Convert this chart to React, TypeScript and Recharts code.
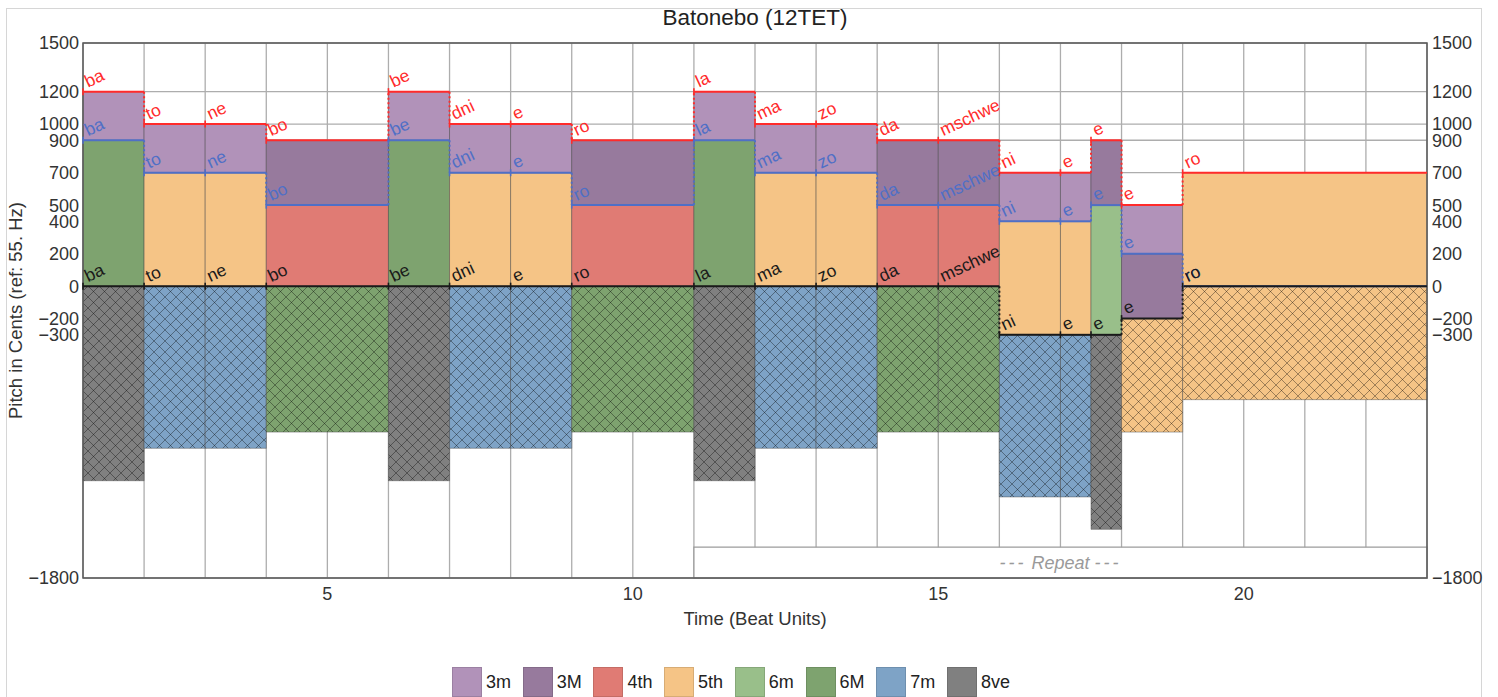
import React from 'react';
import {
  ComposedChart,
  XAxis,
  YAxis,
  CartesianGrid,
  ReferenceArea,
  ReferenceLine,
  ReferenceDot,
  Line,
} from 'recharts';

const TITLE = 'Batonebo (12TET)';
const X_LABEL = 'Time (Beat Units)';
const Y_LABEL = 'Pitch in Cents (ref: 55. Hz)';

// note segments (beat units)
const SEG_START = [1, 2, 3, 4, 6, 7, 8, 9, 11, 12, 13, 14, 15, 16, 17, 17.5, 18, 19];
const SEG_END = [2, 3, 4, 6, 7, 8, 9, 11, 12, 13, 14, 15, 16, 17, 17.5, 18, 19, 23];
const SYLLABLES = ['ba', 'to', 'ne', 'bo', 'be', 'dni', 'e', 'ro', 'la', 'ma', 'zo', 'da', 'mschwe', 'ni', 'e', 'e', 'e', 'ro'];

// voices in cents
const TOP_VOICE = [1200, 1000, 1000, 900, 1200, 1000, 1000, 900, 1200, 1000, 1000, 900, 900, 700, 700, 900, 500, 700];
const MID_VOICE = [900, 700, 700, 500, 900, 700, 700, 500, 900, 700, 700, 500, 500, 400, 400, 500, 200, 0];
const BASS_VOICE = [0, 0, 0, 0, 0, 0, 0, 0, 0, 0, 0, 0, 0, -300, -300, -300, -200, 0];

// intervals
const INTERVAL_NAMES = ['3m', '3M', '4th', '5th', '6m', '6M', '7m', '8ve'];
const INTERVAL_CENTS = [300, 400, 500, 700, 800, 900, 1000, 1200];
const INTERVAL_COLORS = ['#b192b9', '#977a9d', '#e07b74', '#f5c486', '#99bf8a', '#7ea36f', '#7ea3c6', '#808080'];

// axes
const X_TICKS = [1, 2, 3, 4, 5, 6, 7, 8, 9, 10, 11, 12, 13, 14, 15, 16, 17, 18, 19, 20, 21, 22, 23];
const X_LABELED_TICKS = [5, 10, 15, 20];
const Y_TICKS = [-1800, -300, -200, 0, 200, 400, 500, 700, 900, 1000, 1200, 1500];
const X_DOMAIN = [1, 23];
const Y_DOMAIN = [-1800, 1500];

// repeat marker
const REPEAT_START = 11;
const REPEAT_END = 23;
const REPEAT_TOP = -1610;
const REPEAT_DASHES = '---';
const REPEAT_WORD = 'Repeat';
const REPEAT_TEXT_X = 17;
const REPEAT_TEXT_Y = -1705;

const TOP_COLOR = '#ff2b2b';
const MID_COLOR = '#4f6fc6';
const BASS_COLOR = '#1a1a1a';
const FONT = '"Liberation Sans", Arial, Helvetica, sans-serif';
const LABEL_ANGLE = -25;

const colorOf = (cents: number) => INTERVAL_COLORS[INTERVAL_CENTS.indexOf(cents)];
const idOf = (cents: number) => 'hatch-' + INTERVAL_NAMES[INTERVAL_CENTS.indexOf(cents)];

const fmt = (v: number) => (v < 0 ? '\u2212' + Math.abs(v) : String(v));

const DATA = SEG_START.map((s, i) => ({ x: s, y: BASS_VOICE[i] }));

const makeLabelShape = (text: string, color: string) => (props: any) => {
  const { cx, cy } = props;
  if (cx == null || cy == null) return <g />;
  const tx = cx + 5;
  const ty = cy - 4;
  return (
    <g>
      <line x1={cx} x2={cx} y1={cy - 3.5} y2={cy + 3.5} stroke={color} strokeWidth={1.6} />
      <g transform={`translate(${tx} ${ty}) rotate(${LABEL_ANGLE})`}>
        <text x={0} y={0} fill={color} fontSize={17.5} fontFamily={FONT}>
          {text}
        </text>
      </g>
    </g>
  );
};

const repeatShape = (props: any) => {
  const { cx, cy } = props;
  if (cx == null || cy == null) return <g />;
  return (
    <text
      x={cx}
      y={cy}
      textAnchor="middle"
      dominantBaseline="central"
      fill="#9a9a9a"
      fontStyle="italic"
      fontSize={18}
      fontFamily={FONT}
    >
      <tspan letterSpacing={3}>{REPEAT_DASHES}</tspan>
      {' ' + REPEAT_WORD + ' '}
      <tspan letterSpacing={3}>{REPEAT_DASHES}</tspan>
    </text>
  );
};

export default function App() {
  const voices = [
    { vals: TOP_VOICE, color: TOP_COLOR, key: 'top' },
    { vals: MID_VOICE, color: MID_COLOR, key: 'mid' },
    { vals: BASS_VOICE, color: BASS_COLOR, key: 'bass' },
  ];

  return (
    <div
      style={{
        position: 'fixed',
        left: 0,
        top: 0,
        width: 1498,
        height: 697,
        overflow: 'hidden',
        background: '#fff',
        fontFamily: FONT,
      }}
    >
      <div
        style={{
          position: 'absolute',
          left: 6,
          top: 8,
          width: 1474,
          height: 700,
          border: '1px solid #d6d6d6',
        }}
      />
      <div
        style={{
          position: 'absolute',
          left: 0,
          top: 5,
          width: 1510,
          textAlign: 'center',
          fontSize: 22.5,
          lineHeight: '26px',
          color: '#222',
        }}
      >
        {TITLE}
      </div>
      <div style={{ position: 'absolute', left: 0, top: 0 }}>
        <ComposedChart
          width={1498}
          height={697}
          data={DATA}
          margin={{ top: 43, right: 11, bottom: 59, left: 8 }}
          style={{ fontFamily: FONT }}
        >
          <defs>
            {INTERVAL_CENTS.map((c) => (
              <pattern key={c} id={idOf(c)} patternUnits="userSpaceOnUse" width={11} height={11}>
                <rect width={11} height={11} fill={colorOf(c)} />
                <path d="M0,0 L11,11 M11,0 L0,11" stroke="rgba(0,0,0,0.4)" strokeWidth={0.9} />
              </pattern>
            ))}
          </defs>
          <CartesianGrid stroke="#adadad" strokeWidth={1.3} />
          <XAxis
            type="number"
            dataKey="x"
            domain={X_DOMAIN}
            ticks={X_TICKS}
            allowDataOverflow
            interval={0}
            height={60}
            axisLine={false}
            tickLine={false}
            tickSize={4}
            tickMargin={5}
            tick={{ fontSize: 18, fill: '#333' }}
            tickFormatter={(v: number) => (X_LABELED_TICKS.includes(v) ? String(v) : '')}
            label={{ value: X_LABEL, position: 'insideTop', offset: 34, fontSize: 18.5, fill: '#333' }}
          />
          <YAxis
            type="number"
            domain={Y_DOMAIN}
            ticks={Y_TICKS}
            allowDataOverflow
            interval={0}
            width={75}
            axisLine={false}
            tickLine={false}
            tickSize={3}
            tickMargin={1}
            tick={{ fontSize: 18, fill: '#333' }}
            tickFormatter={fmt}
            label={{
              value: Y_LABEL,
              angle: -90,
              position: 'insideLeft',
              offset: 7,
              fontSize: 18.5,
              fill: '#333',
              style: { textAnchor: 'middle' },
            }}
          />
          <YAxis
            yAxisId="right"
            orientation="right"
            type="number"
            domain={Y_DOMAIN}
            ticks={Y_TICKS}
            allowDataOverflow
            interval={0}
            width={60}
            axisLine={false}
            tickLine={false}
            tickSize={4}
            tickMargin={1}
            tick={{ fontSize: 18, fill: '#333' }}
            tickFormatter={fmt}
          />
          <Line dataKey="y" stroke="none" dot={false} activeDot={false} isAnimationActive={false} legendType="none" />

          {/* hatched mirrored outer intervals */}
          {SEG_START.map((s, i) => {
            const span = TOP_VOICE[i] - BASS_VOICE[i];
            return (
              <ReferenceArea
                key={'h' + i}
                x1={s}
                x2={SEG_END[i]}
                y1={BASS_VOICE[i] - span}
                y2={BASS_VOICE[i]}
                fill={`url(#${idOf(span)})`}
                fillOpacity={1}
                stroke="rgba(70,70,70,0.45)"
                strokeWidth={1}
              />
            );
          })}
          {/* lower intervals */}
          {SEG_START.map((s, i) =>
            MID_VOICE[i] > BASS_VOICE[i] ? (
              <ReferenceArea
                key={'l' + i}
                x1={s}
                x2={SEG_END[i]}
                y1={BASS_VOICE[i]}
                y2={MID_VOICE[i]}
                fill={colorOf(MID_VOICE[i] - BASS_VOICE[i])}
                fillOpacity={1}
                stroke="rgba(70,70,70,0.45)"
                strokeWidth={1}
              />
            ) : null
          )}
          {/* upper intervals */}
          {SEG_START.map((s, i) => (
            <ReferenceArea
              key={'u' + i}
              x1={s}
              x2={SEG_END[i]}
              y1={MID_VOICE[i]}
              y2={TOP_VOICE[i]}
              fill={colorOf(TOP_VOICE[i] - MID_VOICE[i])}
              fillOpacity={1}
              stroke="rgba(70,70,70,0.45)"
              strokeWidth={1}
            />
          ))}
          <ReferenceArea
            x1={REPEAT_START}
            x2={REPEAT_END}
            y1={Y_DOMAIN[0]}
            y2={REPEAT_TOP}
            fill="#fff"
            fillOpacity={1}
            stroke="#9c9c9c"
            strokeWidth={1.3}
          />
          <ReferenceArea
            x1={X_DOMAIN[0]}
            x2={X_DOMAIN[1]}
            y1={Y_DOMAIN[0]}
            y2={Y_DOMAIN[1]}
            fill="none"
            stroke="#5a5a5a"
            strokeWidth={1.5}
          />

          {/* voice lines */}
          {voices.map((v) =>
            SEG_START.map((s, i) => (
              <ReferenceLine
                key={v.key + 'l' + i}
                segment={[
                  { x: s, y: v.vals[i] },
                  { x: SEG_END[i], y: v.vals[i] },
                ]}
                stroke={v.color}
                strokeWidth={2}
              />
            ))
          )}
          {voices.map((v) =>
            SEG_START.slice(0, -1).map((s, i) =>
              v.vals[i] !== v.vals[i + 1] ? (
                <ReferenceLine
                  key={v.key + 'd' + i}
                  segment={[
                    { x: SEG_END[i], y: v.vals[i] },
                    { x: SEG_END[i], y: v.vals[i + 1] },
                  ]}
                  stroke={v.color}
                  strokeWidth={2}
                  strokeDasharray="2 2.5"
                />
              ) : null
            )
          )}
          {voices.map((v) =>
            SEG_START.map((s, i) => (
              <ReferenceDot
                key={v.key + 't' + i}
                x={s}
                y={v.vals[i]}
                r={0}
                shape={makeLabelShape(SYLLABLES[i], v.color)}
              />
            ))
          )}
          <ReferenceDot x={REPEAT_TEXT_X} y={REPEAT_TEXT_Y} r={0} shape={repeatShape} />
        </ComposedChart>
      </div>
      <div style={{ position: 'absolute', left: 0, top: 667, height: 30, width: 1498 }}>
        {INTERVAL_NAMES.map((n, i) => (
          <div
            key={n}
            style={{ position: 'absolute', left: 452 + i * 70.7, top: 0, height: 30, display: 'flex', alignItems: 'center' }}
          >
            <div
              style={{
                width: 30,
                height: 30,
                boxSizing: 'border-box',
                background: INTERVAL_COLORS[i],
                border: '1px solid rgba(0,0,0,0.12)',
              }}
            />
            <span style={{ marginLeft: 4, fontSize: 18, color: '#222' }}>{n}</span>
          </div>
        ))}
      </div>
    </div>
  );
}
